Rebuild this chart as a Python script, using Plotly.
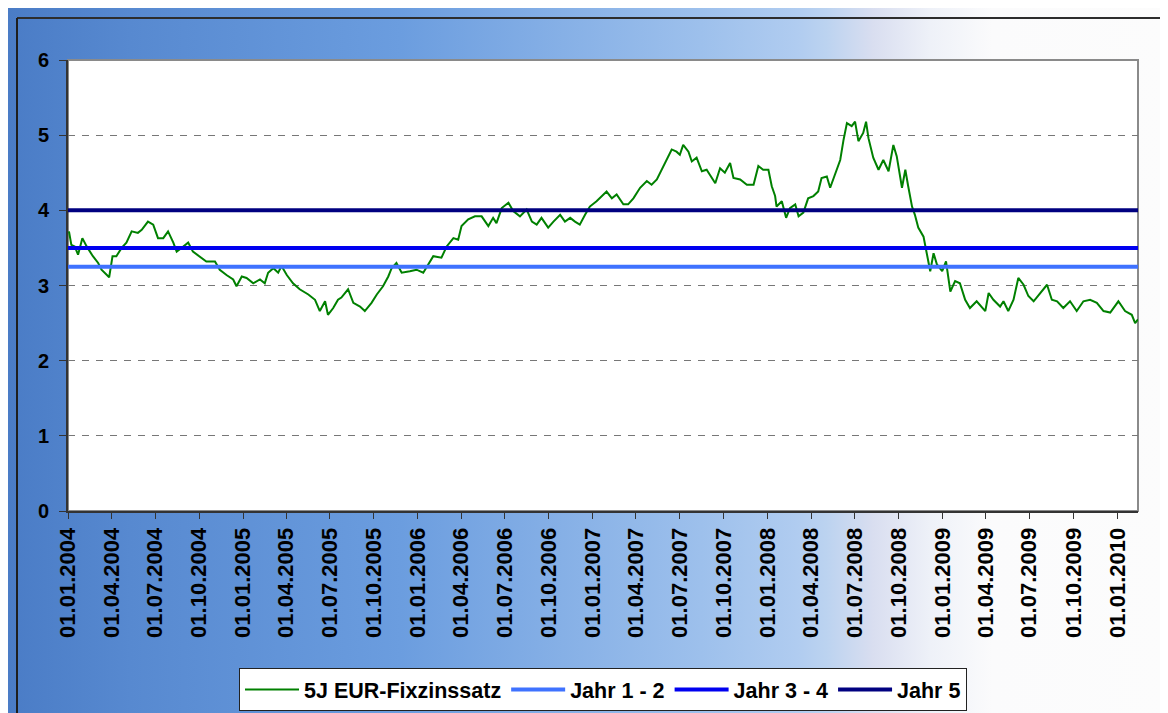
import base64
import plotly.graph_objects as go

# ---------------- data ----------------
rate_dates = [
    "2004-01-03", "2004-01-08", "2004-01-15", "2004-01-22", "2004-01-31", "2004-02-09", "2004-02-22",
    "2004-03-04", "2004-03-11", "2004-03-27", "2004-04-03", "2004-04-11", "2004-04-22", "2004-05-02",
    "2004-05-13", "2004-05-26", "2004-06-03", "2004-06-16", "2004-06-27", "2004-07-07", "2004-07-18",
    "2004-07-28", "2004-08-08", "2004-08-15", "2004-08-25", "2004-09-08", "2004-09-18", "2004-10-02",
    "2004-10-16", "2004-11-03", "2004-11-13", "2004-11-27", "2004-12-11", "2004-12-18", "2004-12-29",
    "2005-01-08", "2005-01-22", "2005-02-05", "2005-02-15", "2005-02-22", "2005-03-05", "2005-03-15",
    "2005-03-22", "2005-04-02", "2005-04-15", "2005-04-29", "2005-05-17", "2005-05-31", "2005-06-10",
    "2005-06-21", "2005-06-27", "2005-07-08", "2005-07-18", "2005-07-25", "2005-08-08", "2005-08-19",
    "2005-09-02", "2005-09-12", "2005-09-26", "2005-10-07", "2005-10-20", "2005-10-31", "2005-11-07",
    "2005-11-17", "2005-11-28", "2005-12-15", "2005-12-29", "2006-01-12", "2006-01-22", "2006-02-02",
    "2006-02-19", "2006-03-02", "2006-03-16", "2006-03-26", "2006-04-02", "2006-04-16", "2006-04-30",
    "2006-05-14", "2006-05-28", "2006-06-07", "2006-06-14", "2006-06-25", "2006-07-09", "2006-07-19",
    "2006-08-02", "2006-08-16", "2006-08-27", "2006-09-06", "2006-09-16", "2006-09-30", "2006-10-11",
    "2006-10-25", "2006-11-04", "2006-11-15", "2006-11-25", "2006-12-05", "2006-12-16", "2006-12-26",
    "2007-01-09", "2007-01-20", "2007-01-30", "2007-02-10", "2007-02-20", "2007-03-06", "2007-03-16",
    "2007-03-27", "2007-04-10", "2007-04-24", "2007-05-04", "2007-05-15", "2007-05-25", "2007-06-05",
    "2007-06-15", "2007-06-25", "2007-07-02", "2007-07-09", "2007-07-20", "2007-07-27", "2007-08-06",
    "2007-08-17", "2007-08-27", "2007-09-03", "2007-09-14", "2007-09-24", "2007-10-04", "2007-10-15",
    "2007-10-22", "2007-11-05", "2007-11-19", "2007-12-03", "2007-12-13", "2007-12-23", "2008-01-03",
    "2008-01-10", "2008-01-17", "2008-01-20", "2008-01-31", "2008-02-09", "2008-02-17", "2008-02-28",
    "2008-03-06", "2008-03-16", "2008-03-26", "2008-04-06", "2008-04-16", "2008-04-23", "2008-05-04",
    "2008-05-11", "2008-05-21", "2008-06-01", "2008-06-08", "2008-06-15", "2008-06-25", "2008-07-02",
    "2008-07-09", "2008-07-19", "2008-07-25", "2008-07-30", "2008-08-09", "2008-08-20", "2008-08-30",
    "2008-09-10", "2008-09-20", "2008-09-27", "2008-10-08", "2008-10-15", "2008-10-21", "2008-10-29",
    "2008-11-04", "2008-11-11", "2008-11-22", "2008-11-29", "2008-12-06", "2008-12-13", "2008-12-20",
    "2008-12-31", "2009-01-08", "2009-01-17", "2009-01-27", "2009-02-06", "2009-02-17", "2009-02-27",
    "2009-03-13", "2009-03-31", "2009-04-07", "2009-04-17", "2009-05-01", "2009-05-08", "2009-05-18",
    "2009-05-29", "2009-06-08", "2009-06-19", "2009-06-29", "2009-07-10", "2009-07-24", "2009-08-07",
    "2009-08-17", "2009-08-28", "2009-09-10", "2009-09-24", "2009-10-08", "2009-10-22", "2009-11-05",
    "2009-11-19", "2009-12-03", "2009-12-17", "2010-01-03", "2010-01-17", "2010-01-31", "2010-02-07",
    "2010-02-13",
]
rate_values = [
    3.72, 3.54, 3.52, 3.41, 3.63, 3.52, 3.39,
    3.30, 3.21, 3.11, 3.39, 3.39, 3.50, 3.57,
    3.72, 3.70, 3.74, 3.85, 3.81, 3.63, 3.63,
    3.72, 3.57, 3.45, 3.50, 3.57, 3.45, 3.39,
    3.32, 3.32, 3.21, 3.14, 3.08, 2.99, 3.12,
    3.10, 3.03, 3.08, 3.03, 3.17, 3.23, 3.17,
    3.26, 3.14, 3.03, 2.95, 2.88, 2.81, 2.66,
    2.79, 2.61, 2.70, 2.81, 2.84, 2.95, 2.77,
    2.72, 2.66, 2.77, 2.88, 2.99, 3.12, 3.23,
    3.30, 3.17, 3.19, 3.21, 3.17, 3.28, 3.39,
    3.37, 3.52, 3.63, 3.61, 3.79, 3.88, 3.92,
    3.92, 3.79, 3.90, 3.83, 4.03, 4.10, 3.99,
    3.92, 4.01, 3.85, 3.81, 3.90, 3.77, 3.85,
    3.94, 3.85, 3.90, 3.85, 3.81, 3.94, 4.05,
    4.12, 4.19, 4.25, 4.16, 4.21, 4.08, 4.08,
    4.16, 4.30, 4.39, 4.34, 4.41, 4.54, 4.67,
    4.81, 4.78, 4.74, 4.87, 4.78, 4.65, 4.70,
    4.52, 4.54, 4.47, 4.36, 4.56, 4.50, 4.63,
    4.43, 4.41, 4.34, 4.34, 4.59, 4.54, 4.54,
    4.32, 4.19, 4.05, 4.12, 3.90, 4.03, 4.08,
    3.92, 3.97, 4.16, 4.19, 4.25, 4.43, 4.45,
    4.30, 4.47, 4.67, 4.94, 5.16, 5.12, 5.18,
    4.92, 5.03, 5.18, 4.96, 4.70, 4.54, 4.67,
    4.52, 4.87, 4.72, 4.30, 4.54, 4.32, 4.05,
    3.94, 3.77, 3.65, 3.43, 3.19, 3.43, 3.28,
    3.19, 3.32, 2.92, 3.06, 3.03, 2.81, 2.70,
    2.79, 2.66, 2.90, 2.81, 2.72, 2.79, 2.66,
    2.81, 3.10, 3.01, 2.86, 2.79, 2.90, 3.01,
    2.81, 2.79, 2.70, 2.79, 2.66, 2.79, 2.81,
    2.77, 2.66, 2.64, 2.79, 2.66, 2.61, 2.50,
    2.55,
]

level_names = ["Jahr 1 - 2", "Jahr 3 - 4", "Jahr 5"]
level_values = [3.25, 3.5, 4.0]
level_colors = ["#3F72FF", "#0000F0", "#000080"]

series_name = "5J EUR-Fixzinssatz"
x_start, x_end = "2004-01-01", "2010-02-13"

# ---------------- figure geometry ----------------
# (page body adds an 8px offset, so the figure is 8px smaller than the window)
W, H = 1160, 705
ML, MR, MT, MB = 60, 30, 52, 202
PW, PH = W - ML - MR, H - MT - MB

# Background: horizontal blue-to-white gradient, slide frame lines, white plot area
svg = f'''<svg xmlns="http://www.w3.org/2000/svg" width="{W}" height="{H}" viewBox="0 0 {W} {H}">
<defs><linearGradient id="g" x1="0" y1="0" x2="1" y2="0">
<stop offset="0" stop-color="#4a7cc6"/>
<stop offset="0.105" stop-color="#5789d0"/>
<stop offset="0.338" stop-color="#6b9ddf"/>
<stop offset="0.597" stop-color="#9dc0ec"/>
<stop offset="0.68" stop-color="#b0ccf0"/>
<stop offset="0.706" stop-color="#bcd3f0"/>
<stop offset="0.746" stop-color="#d9def0"/>
<stop offset="0.795" stop-color="#eef1f8"/>
<stop offset="0.849" stop-color="#fbfbfc"/>
<stop offset="1" stop-color="#fcfcfc"/>
</linearGradient></defs>
<rect x="0" y="0" width="{W}" height="{H}" fill="url(#g)"/>
<line x1="9" y1="10" x2="{W}" y2="10" stroke="#2d2d2d" stroke-width="2"/>
<line x1="9" y1="10" x2="9" y2="{H}" stroke="#1e1e1e" stroke-width="2"/>
<rect x="{ML}" y="{MT}" width="{PW}" height="{PH}" fill="#ffffff"/>
</svg>'''
svg_uri = "data:image/svg+xml;base64," + base64.b64encode(svg.encode()).decode()

fig = go.Figure()

fig.add_trace(go.Scatter(
    x=rate_dates, y=rate_values, mode="lines", name=series_name,
    line=dict(color="#008000", width=2),
))
for nm, val, col in zip(level_names, level_values, level_colors):
    fig.add_trace(go.Scatter(
        x=[x_start, x_end], y=[val, val], mode="lines", name=nm,
        line=dict(color=col, width=4),
    ))

legend_top_px = 660  # figure pixels
fig.update_layout(
    width=W, height=H,
    margin=dict(l=ML, r=MR, t=MT, b=MB, autoexpand=False),
    paper_bgcolor="white",
    plot_bgcolor="white",
    font=dict(family="Liberation Sans, Arial, sans-serif", color="black"),
    showlegend=True,
    legend=dict(
        orientation="h", x=0.5, xanchor="center",
        y=-(legend_top_px - (MT + PH)) / PH, yanchor="top",
        bgcolor="white", bordercolor="#222222", borderwidth=1,
        font=dict(size=21.5, weight="bold", family="Liberation Sans, Arial, sans-serif"),
        itemwidth=54, tracegroupgap=0,
    ),
    images=[dict(
        source=svg_uri, xref="paper", yref="paper",
        x=-ML / PW, y=1 + MT / PH, sizex=W / PW, sizey=H / PH,
        xanchor="left", yanchor="top", sizing="stretch", layer="below",
    )],
    shapes=[dict(
        type="rect", xref="paper", yref="paper", x0=0, x1=1, y0=0, y1=1,
        line=dict(color="#8a8a8a", width=2), layer="below",
    )],
)

fig.update_xaxes(
    type="date", range=[x_start, x_end],
    tick0="2004-01-01", dtick="M3", tickformat="%d.%m.%Y",
    tickangle=-90, ticks="outside", ticklen=6, tickcolor="#333333",
    tickfont=dict(size=22, weight="bold"),
    showgrid=False, showline=True, linecolor="#333333", linewidth=2,
    zeroline=False,
)
fig.update_yaxes(
    range=[0, 6], dtick=1, tick0=0,
    ticks="outside", ticklen=7, tickcolor="#333333",
    tickfont=dict(size=20, weight="bold"),
    ticklabelstandoff=6,
    showgrid=True, gridcolor="#777777", gridwidth=1, griddash="7px,7px",
    showline=True, linecolor="#333333", linewidth=2,
    zeroline=False,
)

fig.write_html("out.html")
